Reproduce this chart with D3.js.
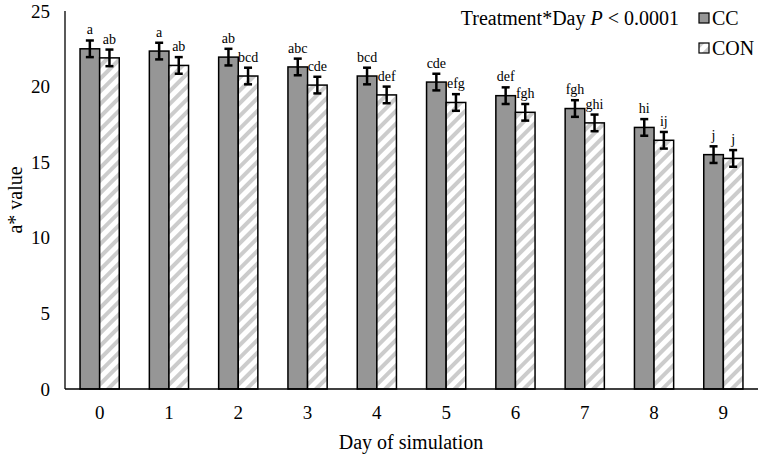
<!DOCTYPE html>
<html><head><meta charset="utf-8">
<script src="https://cdn.jsdelivr.net/npm/d3@7"></script>
<style>
html,body{margin:0;padding:0;background:#fff;}
svg{display:block;font-family:"Liberation Serif","Times New Roman",serif;}
</style></head>
<body><svg id="c" width="760" height="456"></svg>
<script>
const days = ["0","1","2","3","4","5","6","7","8","9"];
const ccValues  = [22.5, 22.35, 21.95, 21.3, 20.7, 20.3, 19.4, 18.55, 17.3, 15.5];
const conValues = [21.9, 21.4, 20.7, 20.1, 19.45, 18.95, 18.3, 17.6, 16.45, 15.25];
const ccErr  = [0.55, 0.55, 0.55, 0.55, 0.55, 0.55, 0.55, 0.55, 0.55, 0.55];
const conErr = [0.55, 0.55, 0.55, 0.55, 0.55, 0.55, 0.55, 0.55, 0.55, 0.55];
const ccLetters  = ["a","a","ab","abc","bcd","cde","def","fgh","hi","j"];
const conLetters = ["ab","ab","bcd","cde","def","efg","fgh","ghi","ij","j"];
const yTicks = [0, 5, 10, 15, 20, 25];
const seriesNames = ["CC","CON"];

const svg = d3.select("#c");
const defs = svg.append("defs");
const pat = defs.append("pattern").attr("id","hatch").attr("patternUnits","userSpaceOnUse")
  .attr("width",9).attr("height",9).attr("patternTransform","rotate(45)");
pat.append("rect").attr("width",9).attr("height",9).attr("fill","#fff");
pat.append("rect").attr("x",0).attr("y",0).attr("width",4).attr("height",9).attr("fill","#cccccc");

const x = d3.scaleBand().domain(days).range([65, 758]).padding(0);
const y = d3.scaleLinear().domain([0, 25]).range([389, 11]);
const barW = 19.6;
const sub = d3.scaleBand().domain(seriesNames).range([-barW, barW]);

const rows = days.map((d,i)=>({day:d, vals:[
  {s:"CC", v:ccValues[i], e:ccErr[i], l:ccLetters[i]},
  {s:"CON", v:conValues[i], e:conErr[i], l:conLetters[i]}]}));

svg.append("line").attr("x1",65).attr("x2",65).attr("y1",y(25)).attr("y2",y(0)).attr("stroke","#000").attr("stroke-width",1.3);

const g = svg.selectAll("g.day").data(rows).join("g").attr("class","day")
  .attr("transform", d=>`translate(${x(d.day)+x.bandwidth()/2},0)`);
const b = g.selectAll("g.bar").data(d=>d.vals).join("g").attr("class","bar");
b.append("rect")
  .attr("x", d=>sub(d.s)).attr("width", sub.bandwidth())
  .attr("y", d=>y(d.v)).attr("height", d=>y(0)-y(d.v))
  .attr("fill", d=>d.s==="CC"?"#969696":"url(#hatch)")
  .attr("stroke","#000").attr("stroke-width",1.5);
b.append("line").attr("x1",d=>sub(d.s)+sub.bandwidth()/2).attr("x2",d=>sub(d.s)+sub.bandwidth()/2)
  .attr("y1",d=>y(d.v+d.e)).attr("y2",d=>y(d.v-d.e)).attr("stroke","#000").attr("stroke-width",2.5);
b.selectAll("line.cap").data(d=>[d,d].map((o,k)=>({o,k}))).join("line").attr("class","cap")
  .attr("x1",d=>sub(d.o.s)+sub.bandwidth()/2-4).attr("x2",d=>sub(d.o.s)+sub.bandwidth()/2+4)
  .attr("y1",d=>y(d.k? d.o.v-d.o.e : d.o.v+d.o.e)).attr("y2",d=>y(d.k? d.o.v-d.o.e : d.o.v+d.o.e))
  .attr("stroke","#000").attr("stroke-width",2.5);
b.append("text").attr("x",d=>sub(d.s)+sub.bandwidth()/2).attr("y",d=>y(d.v+d.e)-6)
  .attr("text-anchor","middle").attr("font-size",14).attr("fill","#000").text(d=>d.l);

svg.append("line").attr("x1",65).attr("x2",758).attr("y1",y(0)).attr("y2",y(0)).attr("stroke","#000").attr("stroke-width",1.3);

const xAxis = svg.append("g").attr("transform",`translate(0,${y(0)})`)
  .call(d3.axisBottom(x).tickSize(0).tickPadding(17));
xAxis.select(".domain").remove();
xAxis.selectAll("text").attr("font-size",19).attr("font-family","Liberation Serif").attr("fill","#000");
const yAxis = svg.append("g").attr("transform",`translate(65,0)`)
  .call(d3.axisLeft(y).tickValues(yTicks).tickSize(0).tickPadding(15));
yAxis.select(".domain").remove();
yAxis.selectAll("text").attr("font-size",19).attr("font-family","Liberation Serif").attr("fill","#000");

svg.append("text").attr("x",411).attr("y",449).attr("text-anchor","middle").attr("font-size",20).text("Day of simulation");
svg.append("text").attr("transform","translate(22,200) rotate(-90)").attr("text-anchor","middle").attr("font-size",20).text("a* value");

const t = svg.append("text").attr("x",679).attr("y",25).attr("text-anchor","end").attr("font-size",20);
t.append("tspan").text("Treatment*Day ");
t.append("tspan").attr("font-style","italic").text("P");
t.append("tspan").text(" < 0.0001");

const leg = svg.selectAll("g.leg").data(seriesNames).join("g").attr("class","leg")
  .attr("transform",(d,i)=>`translate(699,${13+i*30})`);
leg.append("rect").attr("width",10).attr("height",10)
  .attr("fill",d=>d==="CC"?"#969696":"url(#hatch)").attr("stroke","#000").attr("stroke-width",1.2);
leg.append("text").attr("x",13).attr("y",12).attr("font-size",20).text(d=>d);
</script></body></html>
